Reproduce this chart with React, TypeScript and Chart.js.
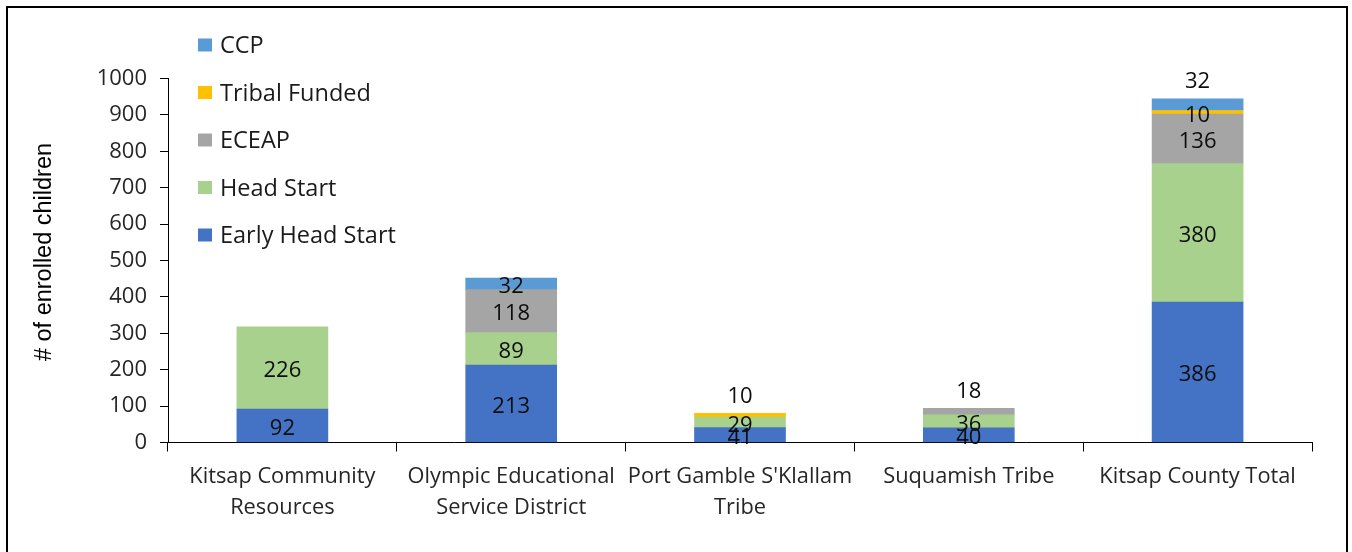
import React, { useEffect, useRef } from "react";
import { Chart, registerables } from "chart.js";

Chart.register(...registerables);

// ---------- data ----------
const categories: (string | string[])[] = [
  ["Kitsap Community", "Resources"],
  ["Olympic Educational", "Service District"],
  ["Port Gamble S'Klallam", "Tribe"],
  "Suquamish Tribe",
  "Kitsap County Total",
];
const seriesNames = ["Early Head Start", "Head Start", "ECEAP", "Tribal Funded", "CCP"];
const earlyHeadStart = [92, 213, 41, 40, 386];
const headStart = [226, 89, 29, 36, 380];
const eceap = [null, 118, null, 18, 136];
const tribalFunded = [null, null, 10, null, 10];
const ccp = [null, 32, null, null, 32];
const yMin = 0;
const yMax = 1000;
const yStep = 100;
const yTitle = "# of enrolled children";

// ---------- style ----------
const colors = ["#4472C4", "#A9D18E", "#A5A5A5", "#FFC000", "#5B9BD5"];
const TEXT = "#262626";
const FONT = '"Open Sans"';
// labels drawn above the stack instead of centred in the segment ("category:series")
const labelsAboveStack = new Set(["2:3", "3:2", "4:4"]);

const overlayPlugin = {
  id: "overlay",
  afterDatasetsDraw(chart: any) {
    const ctx = chart.ctx as CanvasRenderingContext2D;
    const yScale = chart.scales.y;
    ctx.save();
    ctx.font = `22px ${FONT}`;
    ctx.fillStyle = "#0d0d0d";
    ctx.textAlign = "center";
    ctx.textBaseline = "middle";
    chart.data.datasets.forEach((ds: any, di: number) => {
      const meta = chart.getDatasetMeta(di);
      meta.data.forEach((bar: any, ci: number) => {
        const v = ds.data[ci];
        if (v == null) return;
        let y: number;
        if (labelsAboveStack.has(`${ci}:${di}`)) {
          let total = 0;
          chart.data.datasets.forEach((d: any) => (total += d.data[ci] ?? 0));
          y = yScale.getPixelForValue(total) - 17;
        } else {
          y = (bar.y + bar.base) / 2 + 3;
        }
        ctx.fillText(String(v), bar.x, y);
      });
    });
    ctx.restore();
  },
  afterDraw(chart: any) {
    const ctx = chart.ctx as CanvasRenderingContext2D;
    ctx.save();
    // legend (reversed order, inside the plot at top-left)
    const items = chart.data.datasets.map((d: any) => ({ label: d.label, color: d.backgroundColor })).reverse();
    ctx.font = `23.5px ${FONT}`;
    ctx.textAlign = "left";
    ctx.textBaseline = "alphabetic";
    items.forEach((it: any, i: number) => {
      const cy = 45.5 + i * 47.5;
      ctx.fillStyle = it.color;
      ctx.fillRect(198, cy - 7, 14, 13);
      ctx.fillStyle = "#1a1a1a";
      ctx.fillText(it.label, 220, cy + 7.5);
    });
    // y axis title
    ctx.translate(45, 252);
    ctx.rotate(-Math.PI / 2);
    ctx.font = '23.5px "Liberation Sans"';
    ctx.fillStyle = "#000";
    ctx.textAlign = "center";
    ctx.textBaseline = "middle";
    ctx.fillText(yTitle, 0, 0);
    ctx.restore();
  },
};

export default function App() {
  const ref = useRef<HTMLCanvasElement | null>(null);
  useEffect(() => {
    if (!ref.current) return;
    const series = [earlyHeadStart, headStart, eceap, tribalFunded, ccp];
    const chart = new Chart(ref.current, {
      type: "bar",
      data: {
        labels: categories as any,
        datasets: series.map((data, i) => ({
          label: seriesNames[i],
          data: data as any,
          backgroundColor: colors[i],
          borderWidth: 0,
          barThickness: 91,
        })),
      },
      options: {
        animation: false,
        responsive: false,
        devicePixelRatio: 1,
        layout: { padding: { top: 78.5, right: 40, left: 0, bottom: 0 } },
        plugins: { legend: { display: false }, tooltip: { enabled: false }, title: { display: false } },
        scales: {
          x: {
            stacked: true,
            grid: { display: true, drawOnChartArea: false, drawTicks: true, tickLength: 9, color: "#000", lineWidth: 1 },
            border: { display: true, color: "#000", width: 1 },
            ticks: {
              color: TEXT,
              font: { family: FONT, size: 21.8, lineHeight: 1.42 },
              padding: 10,
              maxRotation: 0,
              autoSkip: false,
            },
            afterFit: (s: any) => {
              s.height = 109.5;
            },
          },
          y: {
            stacked: true,
            min: yMin,
            max: yMax,
            grid: { display: true, drawOnChartArea: false, drawTicks: true, tickLength: 8, color: "#000", lineWidth: 1 },
            border: { display: true, color: "#000", width: 1 },
            ticks: {
              stepSize: yStep,
              color: TEXT,
              font: { family: FONT, size: 22 },
              padding: 13,
              callback: (v: any) => String(v),
            },
            afterFit: (s: any) => {
              s.width = 168;
            },
          },
        },
      },
      plugins: [overlayPlugin],
    });
    return () => chart.destroy();
  }, []);
  return (
    <div style={{ position: "fixed", left: 0, top: 0, width: 1352, height: 552, overflow: "hidden", background: "#fff" }}>
      <canvas ref={ref} width={1352} height={552} style={{ display: "block", width: 1352, height: 552 }} />
      <div
        style={{
          position: "absolute",
          left: 6,
          top: 6,
          width: 1342,
          height: 620,
          border: "2px solid #000",
          boxSizing: "border-box",
          pointerEvents: "none",
        }}
      />
    </div>
  );
}
